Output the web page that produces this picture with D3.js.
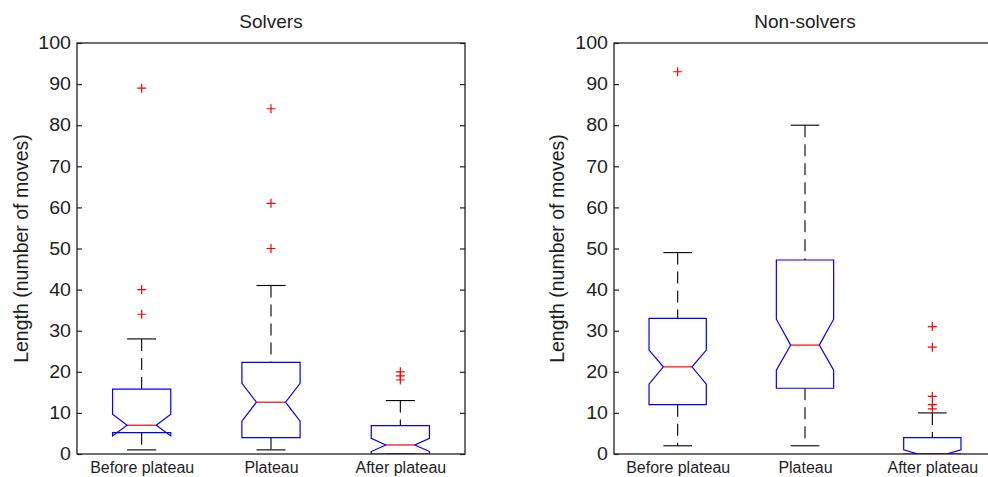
<!DOCTYPE html>
<html>
<head>
<meta charset="utf-8">
<script src="https://cdn.jsdelivr.net/npm/d3@7/dist/d3.min.js"></script>
<style>
  html, body { margin: 0; padding: 0; background: #fff; }
  svg { display: block; }
</style>
</head>
<body>
<script>
// Categories, tick values and panel titles
const categories = ["Before plateau", "Plateau", "After plateau"];
const panelTitles = ["Solvers", "Non-solvers"];
const yTicks = [0, 10, 20, 30, 40, 50, 60, 70, 80, 90, 100];
const yLabel = "Length (number of moves)";

// Solvers: box-plot statistics per category
const solversWhiskerLow  = [1, 1, 0];
const solversQ1          = [5.2, 4, 0];
const solversNotchLow    = [4.4, 8, 0.6];
const solversMedian      = [7, 12.6, 2.2];
const solversNotchHigh   = [9.7, 17.2, 3.8];
const solversQ3          = [15.8, 22.3, 6.9];
const solversWhiskerHigh = [28, 41, 13];
const solversOutliers    = [[34, 40, 89], [50, 61, 84], [18, 19, 20]];

// Non-solvers: box-plot statistics per category
const nonSolversWhiskerLow  = [2, 2, 0];
const nonSolversQ1          = [12, 16, 0];
const nonSolversNotchLow    = [17, 20.4, -1];
const nonSolversMedian      = [21.2, 26.5, 0];
const nonSolversNotchHigh   = [25.3, 32.8, 1];
const nonSolversQ3          = [33, 47.2, 4];
const nonSolversWhiskerHigh = [49, 80, 10];
const nonSolversOutliers    = [[93], [], [11, 12, 14, 26, 31]];

const W = 988, H = 477;
const yTop = 43, yBot = 454;
const FONT = "'Liberation Sans', Arial, sans-serif";
const TEXT = "#1e1e1e";

const panels = [
  { title: panelTitles[0], x0: 77, x1: 465, labelX: 21,
    wLo: solversWhiskerLow, q1: solversQ1, nLo: solversNotchLow, med: solversMedian,
    nHi: solversNotchHigh, q3: solversQ3, wHi: solversWhiskerHigh, out: solversOutliers },
  { title: panelTitles[1], x0: 614, x1: 996, labelX: 557,
    wLo: nonSolversWhiskerLow, q1: nonSolversQ1, nLo: nonSolversNotchLow, med: nonSolversMedian,
    nHi: nonSolversNotchHigh, q3: nonSolversQ3, wHi: nonSolversWhiskerHigh, out: nonSolversOutliers }
];

const svg = d3.select("body").append("svg")
  .attr("width", W).attr("height", H)
  .attr("viewBox", `0 0 ${W} ${H}`);

svg.append("rect").attr("width", W).attr("height", H).attr("fill", "#fff");

const boxHalf = 0.225;      // half box width, in category units
const notchRatio = 0.5;     // notch waist relative to the box
const capRatio = 0.5;       // whisker cap relative to the box

panels.forEach((p, pi) => {
  const x = d3.scaleLinear().domain([0.5, 3.5]).range([p.x0, p.x1]);
  const y = d3.scaleLinear().domain([0, 100]).range([yBot, yTop]);
  const g = svg.append("g");

  const clipId = "clip" + pi;
  svg.append("clipPath").attr("id", clipId)
    .append("rect")
    .attr("x", p.x0).attr("y", yTop)
    .attr("width", p.x1 - p.x0).attr("height", yBot - yTop);

  const plot = g.append("g").attr("clip-path", `url(#${clipId})`);

  categories.forEach((cat, i) => {
    const c = i + 1;
    const L = x(c - boxHalf), R = x(c + boxHalf);
    const Li = x(c - boxHalf * notchRatio), Ri = x(c + boxHalf * notchRatio);
    const cL = x(c - boxHalf * capRatio), cR = x(c + boxHalf * capRatio);
    const cx = x(c);

    // whiskers (dashed), drawn top to bottom
    plot.append("line")
      .attr("x1", cx).attr("x2", cx)
      .attr("y1", y(p.wHi[i])).attr("y2", y(p.q3[i]))
      .attr("stroke", "#000").attr("stroke-width", 1.1)
      .attr("stroke-dasharray", "12,7");
    plot.append("line")
      .attr("x1", cx).attr("x2", cx)
      .attr("y1", y(p.q1[i])).attr("y2", y(p.wLo[i]))
      .attr("stroke", "#000").attr("stroke-width", 1.1)
      .attr("stroke-dasharray", "12,7");

    // whisker caps
    [p.wHi[i], p.wLo[i]].forEach(v => {
      plot.append("line")
        .attr("x1", cL).attr("x2", cR)
        .attr("y1", y(v)).attr("y2", y(v))
        .attr("stroke", "#000").attr("stroke-width", 1.1);
    });

    // notched box
    const pts = [
      [L, y(p.q3[i])], [L, y(p.nHi[i])], [Li, y(p.med[i])], [L, y(p.nLo[i])], [L, y(p.q1[i])],
      [R, y(p.q1[i])], [R, y(p.nLo[i])], [Ri, y(p.med[i])], [R, y(p.nHi[i])], [R, y(p.q3[i])]
    ];
    plot.append("path")
      .attr("d", d3.line()(pts) + "Z")
      .attr("fill", "none")
      .attr("stroke", "#0000ff")
      .attr("stroke-width", 1.2);

    // median
    plot.append("line")
      .attr("x1", Li).attr("x2", Ri)
      .attr("y1", y(p.med[i])).attr("y2", y(p.med[i]))
      .attr("stroke", "#ff0000").attr("stroke-width", 1.2);

    // outliers as "+" markers
    const m = 4.5;
    p.out[i].forEach(v => {
      const oy = y(v);
      plot.append("path")
        .attr("d", `M${cx - m},${oy}H${cx + m}M${cx},${oy - m}V${oy + m}`)
        .attr("stroke", "#ff0000").attr("stroke-width", 1.2)
        .attr("fill", "none");
    });
  });

  // y axis (left) with inward ticks and labels
  const axL = g.append("g")
    .attr("transform", `translate(${p.x0},0)`)
    .call(d3.axisLeft(y).tickValues(yTicks).tickSize(-5).tickPadding(6));
  axL.select(".domain").remove();
  axL.selectAll(".tick line").attr("stroke", "#222").attr("stroke-width", 1.2);
  axL.selectAll(".tick text")
    .attr("font-family", FONT).attr("font-size", 18).attr("fill", TEXT)
    .attr("textLength", d => String(d).length * 10.9)
    .attr("lengthAdjust", "spacingAndGlyphs");

  // mirrored ticks on the right edge
  const axR = g.append("g")
    .attr("transform", `translate(${p.x1},0)`)
    .call(d3.axisRight(y).tickValues(yTicks).tickSize(-5).tickFormat(""));
  axR.select(".domain").remove();
  axR.selectAll(".tick line").attr("stroke", "#222").attr("stroke-width", 1.2);

  // category labels
  const axB = g.append("g")
    .attr("transform", `translate(0,${yBot})`)
    .call(d3.axisBottom(x).tickValues([1, 2, 3])
      .tickFormat(d => categories[d - 1]).tickSize(0).tickPadding(8));
  axB.select(".domain").remove();
  axB.selectAll(".tick text")
    .attr("font-family", FONT).attr("font-size", 16).attr("fill", TEXT);

  // axes frame
  g.append("rect")
    .attr("x", p.x0).attr("y", yTop)
    .attr("width", p.x1 - p.x0).attr("height", yBot - yTop)
    .attr("fill", "none").attr("stroke", "#222").attr("stroke-width", 1.3);

  // title
  g.append("text")
    .attr("x", (p.x0 + p.x1) / 2).attr("y", 28)
    .attr("text-anchor", "middle")
    .attr("font-family", FONT).attr("font-size", 19).attr("fill", TEXT)
    .text(p.title);

  // y axis label
  g.append("text")
    .attr("transform", `translate(${p.labelX},${(yTop + yBot) / 2}) rotate(-90)`)
    .attr("text-anchor", "middle")
    .attr("dominant-baseline", "central")
    .attr("font-family", FONT).attr("font-size", 19.5).attr("fill", TEXT)
    .text(yLabel);
});
</script>
</body>
</html>
